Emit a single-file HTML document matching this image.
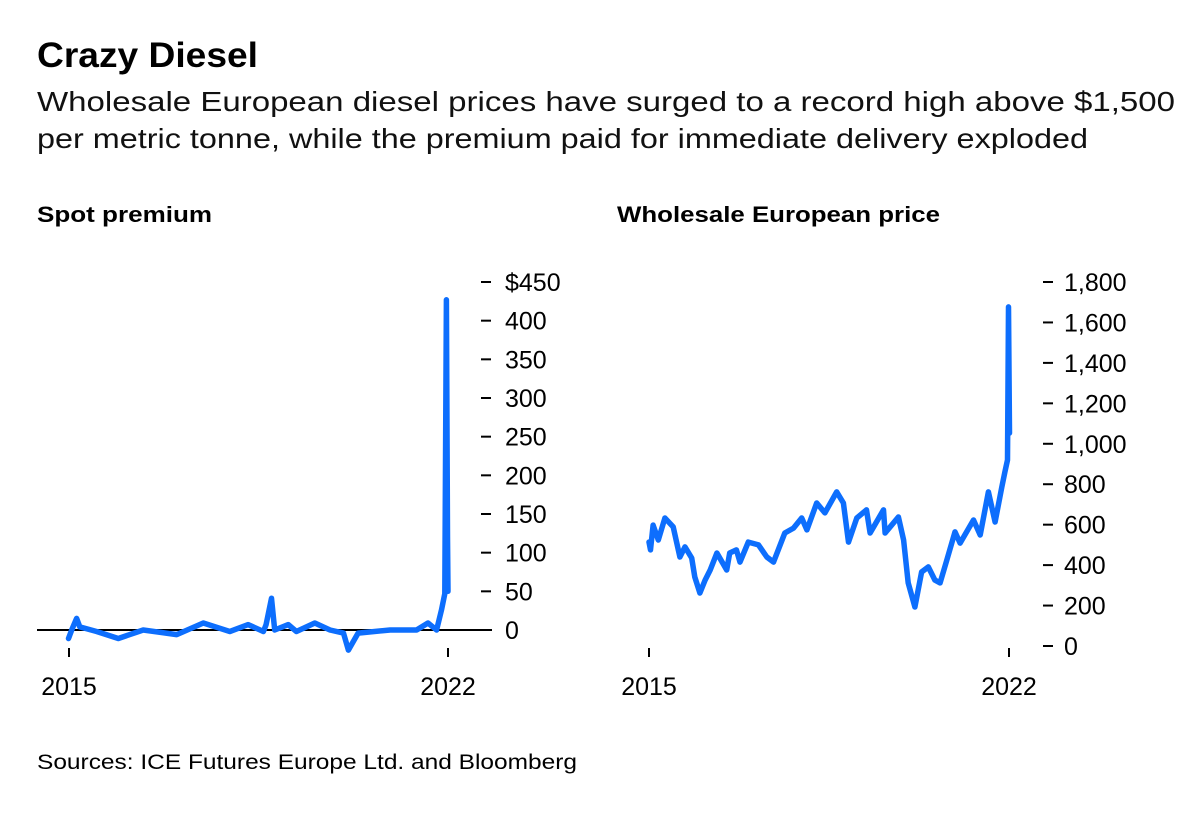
<!DOCTYPE html>
<html><head><meta charset="utf-8"><style>
html,body{margin:0;padding:0;background:#fff;}
svg{display:block;font-family:"Liberation Sans",Arial,sans-serif;}
</style></head><body>
<svg id="chart" width="1200" height="814" viewBox="0 0 1200 814">
<text x="37" y="67" font-size="35" font-weight="bold" fill="#000" textLength="221" lengthAdjust="spacingAndGlyphs">Crazy Diesel</text>
<text x="37" y="111" font-size="28" fill="#111" textLength="1138" lengthAdjust="spacingAndGlyphs">Wholesale European diesel prices have surged to a record high above $1,500</text>
<text x="37" y="148" font-size="28" fill="#111" textLength="1051" lengthAdjust="spacingAndGlyphs">per metric tonne, while the premium paid for immediate delivery exploded</text>
<text x="37" y="222" font-size="22" font-weight="bold" fill="#000" textLength="175" lengthAdjust="spacingAndGlyphs">Spot premium</text>
<text x="617" y="222" font-size="22" font-weight="bold" fill="#000" textLength="323" lengthAdjust="spacingAndGlyphs">Wholesale European price</text>
<text x="37" y="769" font-size="21" fill="#000" textLength="540" lengthAdjust="spacingAndGlyphs">Sources: ICE Futures Europe Ltd. and Bloomberg</text>
<g id="left"></g>
<g id="right"></g>
</svg>
<script>
const leftYears = [2014.99,2015.05,2015.14,2015.20,2015.51,2015.91,2016.37,2016.99,2017.48,2017.97,2018.31,2018.59,2018.64,2018.74,2018.80,2019.05,2019.20,2019.54,2019.82,2020.07,2020.16,2020.34,2020.93,2021.42,2021.63,2021.79,2021.88,2021.94,2021.97,2021.99,2022.0];
const leftValues = [-11,0,15,4,-2,-11,0,-6,9,-2,7,-2,7,41,0,7,-2,9,0,-4,-26,-4,0,0,9,0,26,47,427,120,50];
const leftTicks = [0,50,100,150,200,250,300,350,400,450];
const leftTickLabels = ["0","50","100","150","200","250","300","350","400","$450"];
const rightYears = [2015.0,2015.03,2015.08,2015.18,2015.31,2015.47,2015.60,2015.70,2015.83,2015.89,2015.99,2016.09,2016.19,2016.32,2016.51,2016.57,2016.70,2016.77,2016.93,2017.13,2017.29,2017.42,2017.64,2017.81,2017.97,2018.07,2018.26,2018.42,2018.65,2018.78,2018.88,2019.04,2019.23,2019.30,2019.56,2019.59,2019.85,2019.95,2020.04,2020.17,2020.30,2020.43,2020.56,2020.66,2020.79,2020.95,2021.05,2021.31,2021.44,2021.60,2021.73,2021.86,2021.92,2021.97,2021.99,2022.01];
const rightValues = [514,475,598,524,633,589,440,490,435,341,262,326,376,460,376,460,475,415,514,500,440,415,559,583,633,574,707,658,762,707,514,633,673,559,673,559,638,524,312,193,366,391,326,312,425,564,509,623,549,762,613,786,861,920,1677,1053];
const rightTicks = [0,200,400,600,800,1000,1200,1400,1600,1800];
const rightTickLabels = ["0","200","400","600","800","1,000","1,200","1,400","1,600","1,800"];
const xTickYears = [2015,2022];
const xTickLabels = ["2015","2022"];

const NS="http://www.w3.org/2000/svg";
function mk(parent,tag,attrs){const e=document.createElementNS(NS,tag);for(const k in attrs)e.setAttribute(k,attrs[k]);parent.appendChild(e);return e;}

function drawPanel(g,cfg,years,values,ticks,tickLabels){
  const xS=y=>cfg.x0+(y-2015)/7*(cfg.x1-cfg.x0);
  const yS=v=>cfg.yZero-(v-0)/(cfg.vMax)*(cfg.yZero-cfg.yTop);
  if(cfg.zeroLine){
    const zl=mk(g,'line',{x1:37,x2:cfg.zeroEnd,y1:yS(0),y2:yS(0),stroke:'#000','stroke-width':2});
    
    
  }
  ticks.forEach((t,i)=>{
    const y=yS(t);
    const d=mk(g,'line',{x1:cfg.tickX,x2:cfg.tickX+10,y1:y,y2:y,stroke:'#000','stroke-width':2});
    
    
    const tx=mk(g,'text',{x:cfg.labelX,y:y+9,'font-size':25,fill:'#000'});
    tx.textContent=tickLabels[i];
    
    
  });
  xTickYears.forEach((yr,i)=>{
    const x=xS(yr);
    const m=mk(g,'line',{x1:x,x2:x,y1:cfg.xTickY,y2:cfg.xTickY+9,stroke:'#000','stroke-width':2});
    
    
    const tx=mk(g,'text',{x:x,y:695,'font-size':25,fill:'#000','text-anchor':'middle'});
    tx.textContent=xTickLabels[i];
    
    
  });
  const pts=years.map((yr,i)=>xS(yr).toFixed(1)+','+yS(values[i]).toFixed(1)).join(' ');
  const pl=mk(g,'polyline',{points:pts,fill:'none',stroke:'#0d6efd','stroke-width':5.5,'stroke-linejoin':'round','stroke-linecap':'round'});
  
  
}
drawPanel(document.getElementById('left'),{x0:69,x1:448,yZero:630,yTop:282,vMax:450,tickX:481,labelX:505,zeroLine:true,zeroEnd:492,xTickY:648},leftYears,leftValues,leftTicks,leftTickLabels);
drawPanel(document.getElementById('right'),{x0:649,x1:1009,yZero:646,yTop:282,vMax:1800,tickX:1043,labelX:1064,zeroLine:false,xTickY:648},rightYears,rightValues,rightTicks,rightTickLabels);
</script>
</body></html>
